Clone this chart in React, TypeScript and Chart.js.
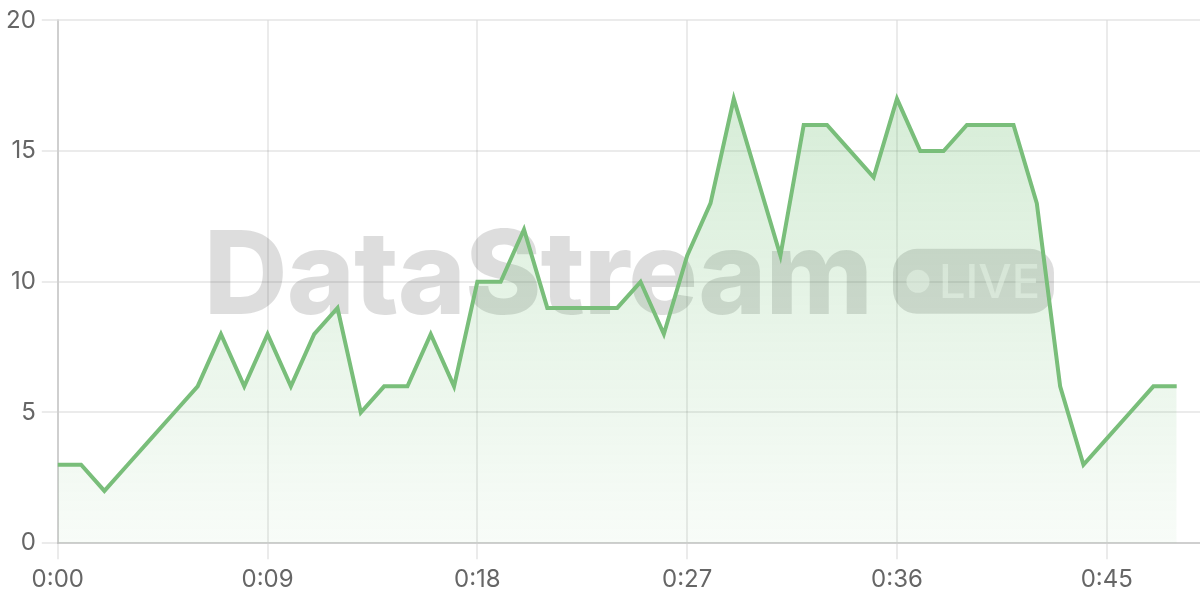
import { useEffect, useRef } from 'react';
import { Chart, registerables, Plugin } from 'chart.js';

Chart.register(...registerables);

const timeLabels = [
  '0:00', '0:01', '0:02', '0:03', '0:04', '0:05', '0:06', '0:07', '0:08', '0:09',
  '0:10', '0:11', '0:12', '0:13', '0:14', '0:15', '0:16', '0:17', '0:18', '0:19',
  '0:20', '0:21', '0:22', '0:23', '0:24', '0:25', '0:26', '0:27', '0:28', '0:29',
  '0:30', '0:31', '0:32', '0:33', '0:34', '0:35', '0:36', '0:37', '0:38', '0:39',
  '0:40', '0:41', '0:42', '0:43', '0:44', '0:45', '0:46', '0:47', '0:48', '0:49',
];

const streamValues = [
  3, 3, 2, 3, 4, 5, 6, 8, 6, 8,
  6, 8, 9, 5, 6, 6, 8, 6, 10, 10,
  12, 9, 9, 9, 9, 10, 8, 11, 13, 17,
  14, 11, 16, 16, 15, 14, 17, 15, 15, 16,
  16, 16, 13, 6, 3, 4, 5, 6, 6,
];

const yTicks = [0, 5, 10, 15, 20];
const labelEvery = 9;

const FONT = 'Inter, "DejaVu Sans", sans-serif';

// draws the "DataStream ● LIVE" mark behind the line
const watermark: Plugin<'line'> = {
  id: 'watermark',
  beforeDatasetsDraw(chart) {
    const { ctx, chartArea } = chart;
    const cx = (chartArea.left + chartArea.right) / 2;
    const cy = (chartArea.top + chartArea.bottom) / 2;
    const badgeW = 161;
    const badgeH = 65;
    const gap = 21;

    ctx.save();
    ctx.font = `800 116px ${FONT}`;
    (ctx as any).letterSpacing = '-1px';
    ctx.textBaseline = 'alphabetic';
    ctx.textAlign = 'left';
    const textW = ctx.measureText('DataStream').width;
    const startX = cx - (textW + gap + badgeW) / 2;
    const baseline = cy + 32;

    ctx.fillStyle = 'rgba(0,0,0,0.135)';
    ctx.fillText('DataStream', startX, baseline);
    (ctx as any).letterSpacing = '0px';

    const bx = startX + textW + gap;
    const by = baseline - badgeH;
    ctx.beginPath();
    ctx.roundRect(bx, by, badgeW, badgeH, 24);
    ctx.fill();

    ctx.fillStyle = 'rgba(255,255,255,0.55)';
    ctx.beginPath();
    ctx.arc(bx + 25, by + badgeH / 2, 11.5, 0, Math.PI * 2);
    ctx.fill();
    ctx.font = `500 47px ${FONT}`;
    ctx.fillText('LIVE', bx + 46, baseline - 16);
    ctx.restore();
  },
};

const App: React.FC = () => {
  const canvasRef = useRef<HTMLCanvasElement | null>(null);
  const chartRef = useRef<Chart | null>(null);

  useEffect(() => {
    if (!canvasRef.current) return;
    if (chartRef.current) chartRef.current.destroy();

    chartRef.current = new Chart(canvasRef.current, {
      type: 'line',
      data: {
        labels: timeLabels,
        datasets: [
          {
            label: 'Stream',
            data: streamValues,
            borderColor: '#79be7a',
            borderWidth: 4,
            pointRadius: 0,
            tension: 0,
            fill: 'origin',
            backgroundColor: (context) => {
              const { chart } = context;
              const area = chart.chartArea;
              if (!area) return 'rgba(76,175,80,0.12)';
              const g = chart.ctx.createLinearGradient(0, area.top, 0, area.bottom);
              g.addColorStop(0, 'rgba(76,175,80,0.26)');
              g.addColorStop(1, 'rgba(76,175,80,0.04)');
              return g;
            },
          },
        ],
      },
      options: {
        responsive: true,
        maintainAspectRatio: false,
        animation: false,
        layout: { padding: { top: 6, left: 0, right: 0, bottom: 0 } },
        plugins: {
          legend: { display: false },
          tooltip: { enabled: false },
        },
        scales: {
          x: {
            grid: { color: 'rgba(0,0,0,0.08)', lineWidth: 2, tickLength: 16 },
            border: { color: 'rgba(0,0,0,0.12)', width: 2 },
            ticks: {
              autoSkip: false,
              maxRotation: 0,
              padding: 6,
              color: '#666',
              font: { family: FONT, size: 24 },
              callback: (_v, i) => (i % labelEvery === 0 ? timeLabels[i] : null),
            },
          },
          y: {
            min: yTicks[0],
            max: yTicks[yTicks.length - 1],
            grid: { color: 'rgba(0,0,0,0.08)', lineWidth: 2, tickLength: 16 },
            border: { color: 'rgba(0,0,0,0.12)', width: 2 },
            afterBuildTicks: (axis) => {
              axis.ticks = yTicks.map((v) => ({ value: v }));
            },
            ticks: {
              padding: 6,
              color: '#666',
              font: { family: FONT, size: 24 },
            },
          },
        },
      },
      plugins: [watermark],
    });

    return () => {
      chartRef.current?.destroy();
    };
  }, []);

  return (
    <div style={{ position: 'absolute', left: 0, top: 0, width: 1200, height: 600, background: '#fff' }}>
      <canvas ref={canvasRef} />
    </div>
  );
};

export default App;
